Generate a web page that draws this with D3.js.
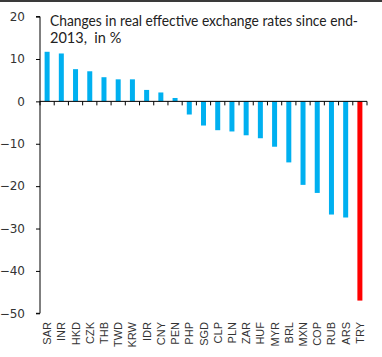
<!DOCTYPE html>
<html><head><meta charset="utf-8">
<script src="https://cdn.jsdelivr.net/npm/d3@7"></script>
<style>html,body{margin:0;padding:0;background:#fff;}</style>
</head><body>
<svg id="c" width="382" height="357"></svg>
<script>
const categories = ["SAR","INR","HKD","CZK","THB","TWD","KRW","IDR","CNY","PEN","PHP","SGD","CLP","PLN","ZAR","HUF","MYR","BRL","MXN","COP","RUB","ARS","TRY"];
const values = [11.7,11.3,7.6,7.1,5.7,5.2,5.2,2.7,2.1,0.8,-3.1,-5.7,-6.8,-7.1,-8.0,-8.7,-10.7,-14.4,-19.7,-21.6,-26.7,-27.4,-47.0];
const highlight = ["TRY"];
const yTicks = [20,10,0,-10,-20,-30,-40,-50];
const titleLines = ["Changes in real effective exchange rates since end-","2013,  in %"];

(function(){
const svg = d3.select("#c");
svg.append("rect").attr("x",0).attr("y",0).attr("width",382).attr("height",2).attr("fill","#3a3a3a");

const mLeft = 40, mRight = 367, mTop = 16.6, mBottom = 313.3;
const x = d3.scaleBand().domain(categories).range([mLeft, mRight]).paddingInner(0).paddingOuter(0);
const y = d3.scaleLinear().domain([-50, 20]).range([mBottom, mTop]);
const bw = 5;

svg.append("g").selectAll("rect").data(categories).join("rect")
  .attr("x", d => x(d) + x.bandwidth()/2 - bw/2)
  .attr("width", bw)
  .attr("y", (d,i) => y(Math.max(0, values[i])))
  .attr("height", (d,i) => Math.abs(y(values[i]) - y(0)))
  .attr("fill", d => highlight.includes(d) ? "#ff0000" : "#00b0f0");

// y axis
const ya = svg.append("g").attr("transform", `translate(${mLeft},0)`)
  .call(d3.axisLeft(y).tickValues(yTicks).tickSize(4).tickPadding(11).tickFormat(d3.format("d")));
ya.select(".domain").attr("stroke","#000").attr("d", `M-4,${y(20)}H0V${y(-50)}H-4`);
ya.selectAll(".tick line").attr("stroke","#000");
ya.selectAll("text").attr("font-family","DejaVu Sans, Verdana, sans-serif").attr("font-size","12px").attr("fill","#333");

// x axis at zero: boundary ticks going down
const xa = svg.append("g").attr("transform", `translate(0,${y(0)})`);
xa.append("line").attr("x1", mLeft).attr("x2", mRight).attr("stroke","#000");
const bounds = categories.map(c => x(c)).concat([mRight]);
xa.selectAll("line.t").data(bounds).join("line").attr("class","t")
  .attr("x1", d => d).attr("x2", d => d).attr("y1", 0).attr("y2", 4).attr("stroke","#000");

// category labels rotated
svg.append("g").selectAll("text").data(categories).join("text")
  .attr("transform", d => `translate(${x(d) + x.bandwidth()/2 + 4},${322}) rotate(-90)`)
  .attr("text-anchor","end")
  .attr("font-family","Liberation Sans, Arial, sans-serif")
  .attr("font-size","11px").attr("fill","#333")
  .text(d => d);

// title
const tg = svg.append("g");
titleLines.forEach((t,i) => {
  const tx = tg.append("text").attr("x", 50).attr("y", 26 + i*16.7)
    .attr("font-family","Lato, sans-serif").attr("font-size","14.5px").attr("fill","#222")
    .style("white-space","pre")
    .text(t);
  if (i === 0) tx.attr("textLength", 308).attr("lengthAdjust","spacingAndGlyphs");
});
})();
</script>
</body></html>
